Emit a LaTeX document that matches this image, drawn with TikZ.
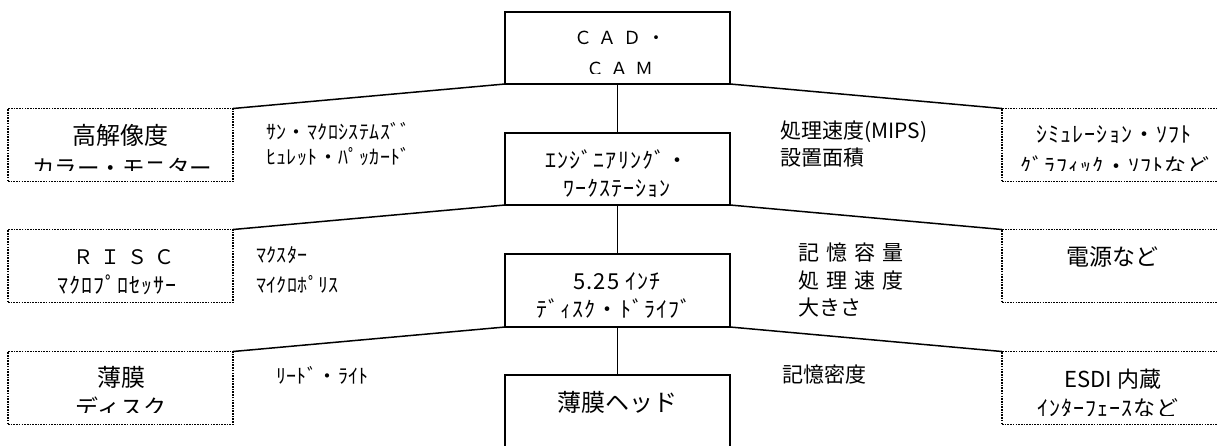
\documentclass[tikz,border=0pt]{standalone}
\usepackage{fontspec}
\setmainfont{Noto Sans CJK JP}
\newfontfamily\HWbox[LetterSpace=5]{Noto Sans CJK JP}
\newfontfamily\HWmid[LetterSpace=2]{Noto Sans CJK JP}
\newfontfamily\WDfont[LetterSpace=35]{Noto Sans CJK JP}
\begin{document}
\begin{tikzpicture}[x=1pt,y=-1pt,
  mainbox/.style={draw, line width=1.5pt, minimum width=225pt, minimum height=72pt, inner sep=0pt, outer sep=0pt},
  sidebox/.style={draw, line width=1.7pt, dash pattern=on 1.6pt off 1.1pt, minimum width=225pt, minimum height=73pt, inner sep=0pt, outer sep=0pt},
  conn/.style={line width=1.5pt},
  big/.style={inner sep=0pt, font=\fontsize{23}{25}\selectfont},
  mid/.style={inner sep=0pt, anchor=west, font=\fontsize{21}{23}\selectfont},
  hwb/.style={inner sep=0pt, font=\HWbox\fontsize{22}{24}\selectfont},
  hwm/.style={inner sep=0pt, anchor=west, font=\HWmid\fontsize{20}{22}\selectfont},
  wide/.style={inner sep=0pt, font=\WDfont\fontsize{18}{20}\selectfont}]
\fill[white] (0,0) rectangle (1218,445);
\useasboundingbox (0,0) rectangle (1218,445);
% central boxes
\node[mainbox] (cad) at (617.5,48) {};
\node[mainbox] (es) at (617.5,169) {};
\node[mainbox, minimum height=73pt] (disk) at (617.5,290.5) {};
\node[mainbox, minimum height=90pt] (head) at (617.5,420) {};
% side boxes
\node[sidebox] (l1) at (120.5,145) {};
\node[sidebox] (l2) at (120.5,266) {};
\node[sidebox] (l3) at (120.5,388) {};
\node[sidebox] (r1) at (1114.5,145) {};
\node[sidebox] (r2) at (1114.5,266) {};
\node[sidebox] (r3) at (1114.5,388) {};
% connectors
\draw[conn] (l1.north east) -- (cad.south west);
\draw[conn] (cad.south east) -- (r1.north west);
\draw[conn] (cad.south) -- (es.north);
\draw[conn] (l2.north east) -- (es.south west);
\draw[conn] (es.south east) -- (r2.north west);
\draw[conn] (es.south) -- (disk.north);
\draw[conn] (l3.north east) -- (disk.south west);
\draw[conn] (disk.south east) -- (r3.north west);
\draw[conn] (disk.south) -- (head.north);
% texts in central boxes
\begin{scope}
\clip (505,12) rectangle (730,73);
\node[wide] (t-cad1) at (620,38) {ＣＡＤ・};
\node[wide] (t-cad2) at (620,69) {ＣＡＭ};
\end{scope}
\node[hwb] (t-es1) at (617,160) {ｴﾝｼﾞﾆｱﾘﾝｸﾞ・};
\node[hwb] (t-es2) at (617,188) {ﾜｰｸｽﾃｰｼｮﾝ};
\node[hwb] (t-disk1) at (617,281) {5.25 ｲﾝﾁ};
\node[hwb] (t-disk2) at (614,309) {ﾃﾞｨｽｸ・ﾄﾞﾗｲﾌﾞ};
\node[big, font=\fontsize{24}{26}\selectfont] (t-head) at (617,402) {薄膜ヘッド};
% left boxes
\begin{scope}
\clip (8,108) rectangle (233,170);
\node[big, font=\fontsize{24}{26}\selectfont] (t-l1a) at (120,135) {高解像度};
\node[big, font=\fontsize{22.5}{24}\selectfont] (t-l1b) at (122,168) {カラー・モニター};
\end{scope}
\node[wide, font=\WDfont\fontsize{20}{22}\selectfont] (t-l2a) at (124,257) {ＲＩＳＣ};
\node[hwb] (t-l2b) at (117,285) {ﾏｸﾛﾌﾟﾛｾｯｻｰ};
\begin{scope}
\clip (8,352) rectangle (233,412);
\node[big, font=\fontsize{24}{26}\selectfont] (t-l3a) at (121,377) {薄膜};
\node[big] (t-l3b) at (121,408) {ディスク};
\end{scope}
% right boxes
\begin{scope}
\clip (1002,108) rectangle (1227,170);
\node[hwb] (t-r1a) at (1114,135) {ｼﾐｭﾚｰｼｮﾝ・ｿﾌﾄ};
\node[hwb] (t-r1b) at (1115,165.5) {ｸﾞﾗﾌｨｯｸ・ｿﾌﾄなど};
\end{scope}
\node[big] (t-r2) at (1112,257) {電源など};
\begin{scope}
\clip (1002,352) rectangle (1227,415);
\node[big, font=\fontsize{22}{24}\selectfont] (t-r3a) at (1113,379) {ESDI 内蔵};
\node[hwb] (t-r3b) at (1108,408) {ｲﾝﾀｰﾌｪｰｽなど};
\end{scope}
% middle column texts
\node[hwm] (m1a) at (266,131) {ｻﾝ・ﾏｸﾛｼｽﾃﾑｽﾞﾞ};
\node[hwm] (m1b) at (266,157) {ﾋｭﾚｯﾄ・ﾊﾟｯｶｰﾄﾞ};
\node[mid] (m1c) at (780,132) {処理速度(MIPS)};
\node[mid] (m1d) at (780,158) {設置面積};
\node[hwm] (m2a) at (256,255) {ﾏｸｽﾀｰ};
\node[hwm] (m2b) at (256,284) {ﾏｲｸﾛﾎﾟﾘｽ};
\node[mid] (m2c) at (798,253) {記\,\,憶\,\,容\,\,量};
\node[mid] (m2d) at (798,281) {処\,\,理\,\,速\,\,度};
\node[mid] (m2e) at (798,308) {大きさ};
\node[hwm] (m3a) at (276,375) {ﾘｰﾄﾞ・ﾗｲﾄ};
\node[mid] (m3b) at (782,375) {記憶密度};
\end{tikzpicture}
\end{document}
